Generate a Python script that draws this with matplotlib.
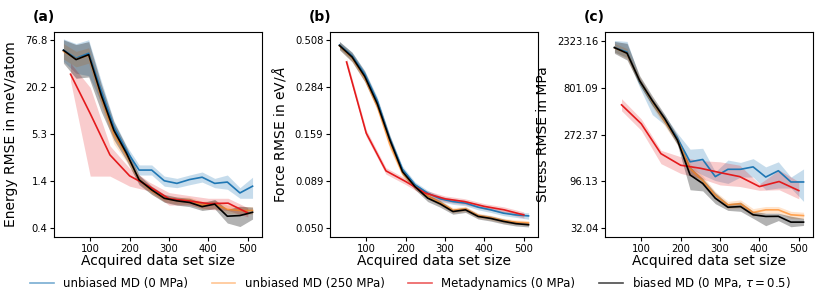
import numpy as np
import matplotlib
matplotlib.use("Agg")
import matplotlib.pyplot as plt
from matplotlib.lines import Line2D
from matplotlib.ticker import FixedLocator, FixedFormatter, NullLocator

# ---------------- data ----------------
x_md = [32, 64, 96, 128, 160, 192, 224, 256, 288, 320, 352, 384, 416, 448, 480, 512]
x_meta = [50, 100, 150, 200, 250, 300, 350, 400, 450, 500]

# (a) Energy RMSE (meV/atom)
e_blue = [58, 46, 53, 18, 6.5, 3.3, 1.9, 1.9, 1.4, 1.3, 1.45, 1.55, 1.3, 1.35, 0.99, 1.2]
e_blue_lo = [42, 30, 28, 13, 5.2, 2.8, 1.65, 1.65, 1.2, 1.15, 1.25, 1.35, 1.15, 1.1, 0.85, 0.85]
e_blue_hi = [80, 70, 78, 24, 7.8, 3.8, 2.2, 2.2, 1.6, 1.5, 1.65, 1.8, 1.5, 1.65, 1.15, 1.55]
e_orange = [56, 45, 50, 15, 5.2, 2.9, 1.45, 1.05, 0.85, 0.8, 0.8, 0.7, 0.72, 0.62, 0.6, 0.6]
e_orange_lo = [45, 36, 40, 12, 4.0, 2.4, 1.3, 0.95, 0.77, 0.72, 0.72, 0.62, 0.64, 0.55, 0.54, 0.54]
e_orange_hi = [70, 56, 62, 19, 6.5, 3.4, 1.6, 1.15, 0.93, 0.88, 0.88, 0.78, 0.8, 0.7, 0.67, 0.67]
e_red = [29.2, 9.5, 2.93, 1.61, 1.19, 0.84, 0.79, 0.73, 0.74, 0.56]
e_red_lo = [24, 1.6, 1.6, 1.2, 1.05, 0.7, 0.7, 0.62, 0.6, 0.5]
e_red_hi = [40, 20, 3.8, 2.0, 1.35, 1.0, 0.92, 0.85, 0.85, 0.65]
e_black = [57.8, 44.3, 51, 16, 5.9, 3.07, 1.44, 1.08, 0.85, 0.79, 0.755, 0.67, 0.72, 0.51, 0.52, 0.57]
e_black_lo = [40, 26, 27, 10, 4.5, 2.5, 1.25, 0.95, 0.76, 0.7, 0.67, 0.6, 0.63, 0.42, 0.38, 0.47]
e_black_hi = [78, 68, 74, 22, 7.5, 3.7, 1.65, 1.2, 0.95, 0.88, 0.85, 0.75, 0.82, 0.62, 0.68, 0.66]

# (b) Force RMSE (eV/A)
f_blue = [0.48, 0.42, 0.335, 0.24, 0.15, 0.103, 0.085, 0.0766, 0.0714, 0.069, 0.0677, 0.0644, 0.0623, 0.0598, 0.0585, 0.0578]
f_blue_lo = [0.46, 0.40, 0.32, 0.228, 0.143, 0.099, 0.082, 0.0740, 0.0690, 0.0667, 0.0655, 0.0623, 0.0603, 0.0580, 0.0567, 0.0555]
f_blue_hi = [0.50, 0.44, 0.35, 0.252, 0.157, 0.107, 0.088, 0.0792, 0.0738, 0.0713, 0.0700, 0.0665, 0.0643, 0.0617, 0.0603, 0.0601]
f_orange = [0.475, 0.41, 0.32, 0.225, 0.14, 0.098, 0.083, 0.074, 0.068, 0.062, 0.063, 0.058, 0.0565, 0.0545, 0.0535, 0.053]
f_orange_lo = [0.455, 0.39, 0.305, 0.213, 0.132, 0.094, 0.080, 0.0715, 0.0657, 0.0600, 0.0610, 0.0562, 0.0548, 0.0529, 0.0520, 0.0515]
f_orange_hi = [0.495, 0.43, 0.335, 0.237, 0.148, 0.102, 0.086, 0.0765, 0.0703, 0.0640, 0.0650, 0.0598, 0.0582, 0.0561, 0.0550, 0.0545]
f_red = [0.389, 0.161, 0.101, 0.0885, 0.0766, 0.0714, 0.069, 0.065, 0.0623, 0.0585]
f_red_lo = [0.372, 0.154, 0.097, 0.0852, 0.0738, 0.0688, 0.0665, 0.0627, 0.0600, 0.0563]
f_red_hi = [0.406, 0.168, 0.105, 0.0918, 0.0794, 0.0740, 0.0715, 0.0673, 0.0646, 0.0607]
f_black = [0.477, 0.414, 0.326, 0.232, 0.148, 0.100, 0.083, 0.072, 0.067, 0.061, 0.0623, 0.0574, 0.056, 0.054, 0.0525, 0.0518]
f_black_lo = [0.452, 0.390, 0.305, 0.218, 0.140, 0.096, 0.080, 0.0690, 0.0643, 0.0590, 0.0603, 0.0556, 0.0542, 0.0523, 0.0510, 0.0504]
f_black_hi = [0.502, 0.438, 0.347, 0.246, 0.156, 0.104, 0.086, 0.0750, 0.0697, 0.0630, 0.0643, 0.0592, 0.0578, 0.0557, 0.0540, 0.0532]

# (c) Stress RMSE (MPa)
s_blue = [2000, 1800, 900, 560, 380, 250, 146, 154, 104, 123, 123, 130, 103, 119, 92, 92]
s_blue_lo = [1800, 1600, 800, 430, 340, 220, 125, 108, 95, 89, 103, 103, 77, 80, 80, 59]
s_blue_hi = [2350, 2300, 1000, 620, 420, 280, 195, 199, 116, 152, 144, 157, 130, 146, 103, 124]
s_orange = [1990, 1750, 920, 570, 370, 240, 125, 95, 68, 54.5, 56, 45.8, 48.6, 48.6, 43.4, 42.6]
s_orange_lo = [1800, 1550, 830, 510, 330, 215, 110, 85, 62, 50, 51, 42, 45, 45, 40, 39.5]
s_orange_hi = [2200, 1950, 1020, 630, 410, 265, 140, 106, 74, 59, 61, 50, 52.5, 52.5, 47, 46]
s_red = [538, 349, 176, 135, 126, 114, 104, 82.8, 93, 75.5]
s_red_lo = [470, 300, 140, 112, 100, 86, 83, 76, 77, 62.5]
s_red_hi = [620, 390, 190, 164, 150, 146, 135, 88, 121, 92.6]
s_black = [1995, 1754, 935, 593, 391, 239, 108, 89, 63.4, 51.6, 52.4, 43.4, 41.8, 41.9, 36.7, 36.7]
s_black_lo = [1750, 1500, 850, 530, 350, 215, 77, 75, 56, 48, 47, 40, 33.8, 38, 33, 34]
s_black_hi = [2300, 2200, 1050, 660, 430, 265, 130, 100, 72, 56, 58, 47, 45, 45, 42, 40]

# axis tick labels
e_ticklabels = ["0.4", "1.4", "5.3", "20.2", "76.8"]
f_ticklabels = ["0.050", "0.089", "0.159", "0.284", "0.508"]
s_ticklabels = ["32.04", "96.13", "272.37", "801.09", "2323.16"]
x_ticks = [100, 200, 300, 400, 500]

series_names = ["unbiased MD (0 MPa)", "unbiased MD (250 MPa)",
                "Metadynamics (0 MPa)", r"biased MD (0 MPa, $\tau = 0.5$)"]

# ---------------- style ----------------
c_blue = "#1f77b4"
c_orange = "#ff7f0e"
c_red = "#e41a1c"
c_black = "#000000"

fig = plt.figure(figsize=(8.21, 2.93), dpi=100)

W = 208 / 821
H = 205 / 293
B = (293 - 237) / 293
lefts = [54 / 821, 330 / 821, 605 / 821]

panels = [
    dict(data=[(x_md, e_blue, e_blue_lo, e_blue_hi),
               (x_md, e_orange, e_orange_lo, e_orange_hi),
               (x_meta, e_red, e_red_lo, e_red_hi),
               (x_md, e_black, e_black_lo, e_black_hi)],
         tick_range=(0.368, 76.8), ylim=(0.282, 97.3),
         ticklabels=e_ticklabels, ylabel="Energy RMSE in meV/atom", tag="(a)"),
    dict(data=[(x_md, f_blue, f_blue_lo, f_blue_hi),
               (x_md, f_orange, f_orange_lo, f_orange_hi),
               (x_meta, f_red, f_red_lo, f_red_hi),
               (x_md, f_black, f_black_lo, f_black_hi)],
         tick_range=(0.050, 0.508), ylim=(0.0445, 0.564),
         ticklabels=f_ticklabels, ylabel=r"Force RMSE in eV/$\AA$", tag="(b)"),
    dict(data=[(x_md, s_blue, s_blue_lo, s_blue_hi),
               (x_md, s_orange, s_orange_lo, s_orange_hi),
               (x_meta, s_red, s_red_lo, s_red_hi),
               (x_md, s_black, s_black_lo, s_black_hi)],
         tick_range=(32.04, 2323.16), ylim=(26.1, 2853),
         ticklabels=s_ticklabels, ylabel="Stress RMSE in MPa", tag="(c)"),
]

line_styles = [
    dict(color=c_blue, alpha=1.0, band_color=c_blue, band_alpha=0.25),
    dict(color=c_orange, alpha=0.65, band_color=c_orange, band_alpha=0.2),
    dict(color=c_red, alpha=1.0, band_color=c_red, band_alpha=0.22),
    dict(color=c_black, alpha=1.0, band_color=c_black, band_alpha=0.3),
]

for i, p in enumerate(panels):
    ax = fig.add_axes([lefts[i], B, W, H])
    for (xs, m, lo, hi), st in zip(p["data"], line_styles):
        ax.fill_between(xs, lo, hi, color=st["band_color"], alpha=st["band_alpha"], linewidth=0)
        ax.plot(xs, m, color=st["color"], alpha=st["alpha"], linewidth=1.2)
    ax.set_yscale("log")
    ax.set_ylim(*p["ylim"])
    yt = np.geomspace(p["tick_range"][0], p["tick_range"][1], 5)
    ax.yaxis.set_major_locator(FixedLocator(yt))
    ax.yaxis.set_major_formatter(FixedFormatter(p["ticklabels"]))
    ax.yaxis.set_minor_locator(NullLocator())
    ax.set_xticks(x_ticks)
    ax.tick_params(labelsize=7.2, length=3, width=0.8, pad=1.8)
    ax.set_xlabel("Acquired data set size", fontsize=10, labelpad=0.5)
    ax.set_ylabel(p["ylabel"], fontsize=10, labelpad=5)
    for sp in ax.spines.values():
        sp.set_linewidth(0.8)
    ax.text(-0.1, 1.072, p["tag"], transform=ax.transAxes, fontsize=10,
            fontweight="bold", ha="left", va="center")

handles = [
    Line2D([], [], color=c_blue, alpha=0.6, linewidth=1.2),
    Line2D([], [], color=c_orange, alpha=0.45, linewidth=1.2),
    Line2D([], [], color=c_red, alpha=0.7, linewidth=1.2),
    Line2D([], [], color=c_black, alpha=0.7, linewidth=1.2),
]
fig.legend(handles, series_names, loc="center", bbox_to_anchor=(0.5, 10 / 293),
           ncol=4, frameon=False, fontsize=8.5, handlelength=2.0,
           columnspacing=2.0, handletextpad=0.8)

fig.savefig("out.png", dpi=100)
